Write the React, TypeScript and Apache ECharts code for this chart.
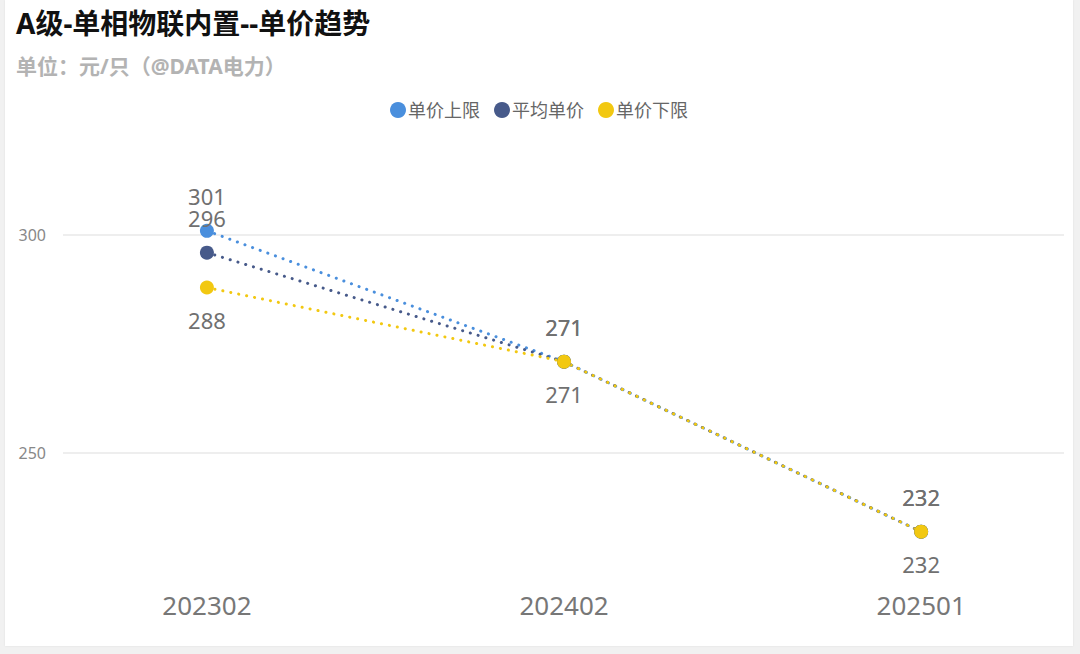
import { useEffect, useRef } from "react";
import * as echarts from "echarts";

const categories = ["202302", "202402", "202501"];
const upperPrice = [301, 271, 232];
const avgPrice = [296, 271, 232];
const lowerPrice = [288, 271, 232];
const yTicks = [250, 300];

const FONT = "'Noto Sans', 'Noto Sans CJK SC', sans-serif";

function toPoints(values: number[]) {
  return values.map((v, i) => [i, v]);
}

export default function App() {
  const chartEl = useRef<HTMLDivElement>(null);

  useEffect(() => {
    if (!chartEl.current) return;
    const chart = echarts.init(chartEl.current, undefined, { renderer: "svg" });

    const dotted = (color: string) => ({
      color,
      width: 3,
      type: [0.1, 8] as number[],
      cap: "round" as const,
    });

    const label = (position: "top" | "bottom", distance: number) => ({
      show: true,
      position,
      distance,
      color: "#707070",
      fontSize: 22,
      fontFamily: FONT,
    });

    chart.setOption({
      animation: false,
      backgroundColor: "#ffffff",
      textStyle: { fontFamily: FONT },
      title: {
        text: "A级-单相物联内置--单价趋势",
        subtext: "单位：元/只（@DATA电力）",
        left: 6,
        top: 4,
        itemGap: 18,
        textStyle: { fontSize: 28, fontWeight: "bold", color: "#111111", fontFamily: FONT },
        subtextStyle: { fontSize: 21, fontWeight: "bold", color: "#b3b3b3", fontFamily: FONT },
      },
      legend: {
        top: 96,
        left: "center",
        icon: "circle",
        itemWidth: 16,
        itemHeight: 16,
        itemGap: 14,
        textStyle: { fontSize: 18, color: "#666666", fontFamily: FONT, padding: [0, 0, 0, -3] },
        data: ["单价上限", "平均单价", "单价下限"],
      },
      grid: { left: 58, right: 9, top: 148, bottom: 62 },
      xAxis: {
        type: "value",
        min: -0.403,
        max: 2.4,
        axisLine: { show: false },
        axisTick: { show: false },
        splitLine: { show: false },
        axisLabel: {
          customValues: [0, 1, 2],
          formatter: (v: number) => categories[Math.round(v)] ?? "",
          color: "#777777",
          fontSize: 26,
          margin: 8,
          fontFamily: FONT,
        },
      },
      yAxis: {
        type: "value",
        min: 220,
        max: 320,
        axisLine: { show: false },
        axisTick: { show: false },
        splitLine: { show: false },
        axisLabel: {
          customValues: yTicks,
          color: "#888888",
          fontSize: 16,
          margin: 17,
          fontFamily: FONT,
        },
      },
      series: [
        {
          name: "单价上限",
          type: "line",
          data: toPoints(upperPrice),
          symbol: "circle",
          symbolSize: 14,
          itemStyle: { color: "#4a8fdd" },
          lineStyle: dotted("#4a8fdd"),
          label: label("top", 17),
          markLine: {
            silent: true,
            symbol: ["none", "none"],
            label: { show: false },
            lineStyle: { color: "#e8e8e8", type: "solid", width: 1.5 },
            data: yTicks.map((t) => ({ yAxis: t })),
            z: 0,
          },
        },
        {
          name: "平均单价",
          type: "line",
          data: toPoints(avgPrice),
          symbol: "circle",
          symbolSize: 14,
          itemStyle: { color: "#475a8a" },
          lineStyle: dotted("#475a8a"),
          label: label("top", 17),
        },
        {
          name: "单价下限",
          type: "line",
          data: toPoints(lowerPrice),
          symbol: "circle",
          symbolSize: 14,
          itemStyle: { color: "#f2c811" },
          lineStyle: dotted("#f2c811"),
          label: label("bottom", 14),
        },
      ],
    });

    return () => chart.dispose();
  }, []);

  return (
    <div
      style={{
        position: "fixed",
        inset: 0,
        width: 1080,
        height: 654,
        background: "#f1f1f1",
      }}
    >
      <div
        style={{
          position: "absolute",
          left: 5,
          top: 0,
          width: 1068,
          height: 646,
          background: "#ffffff",
          boxShadow: "0 0 2px rgba(0,0,0,0.08)",
        }}
      >
        <div ref={chartEl} style={{ width: "100%", height: "100%" }} />
      </div>
    </div>
  );
}
